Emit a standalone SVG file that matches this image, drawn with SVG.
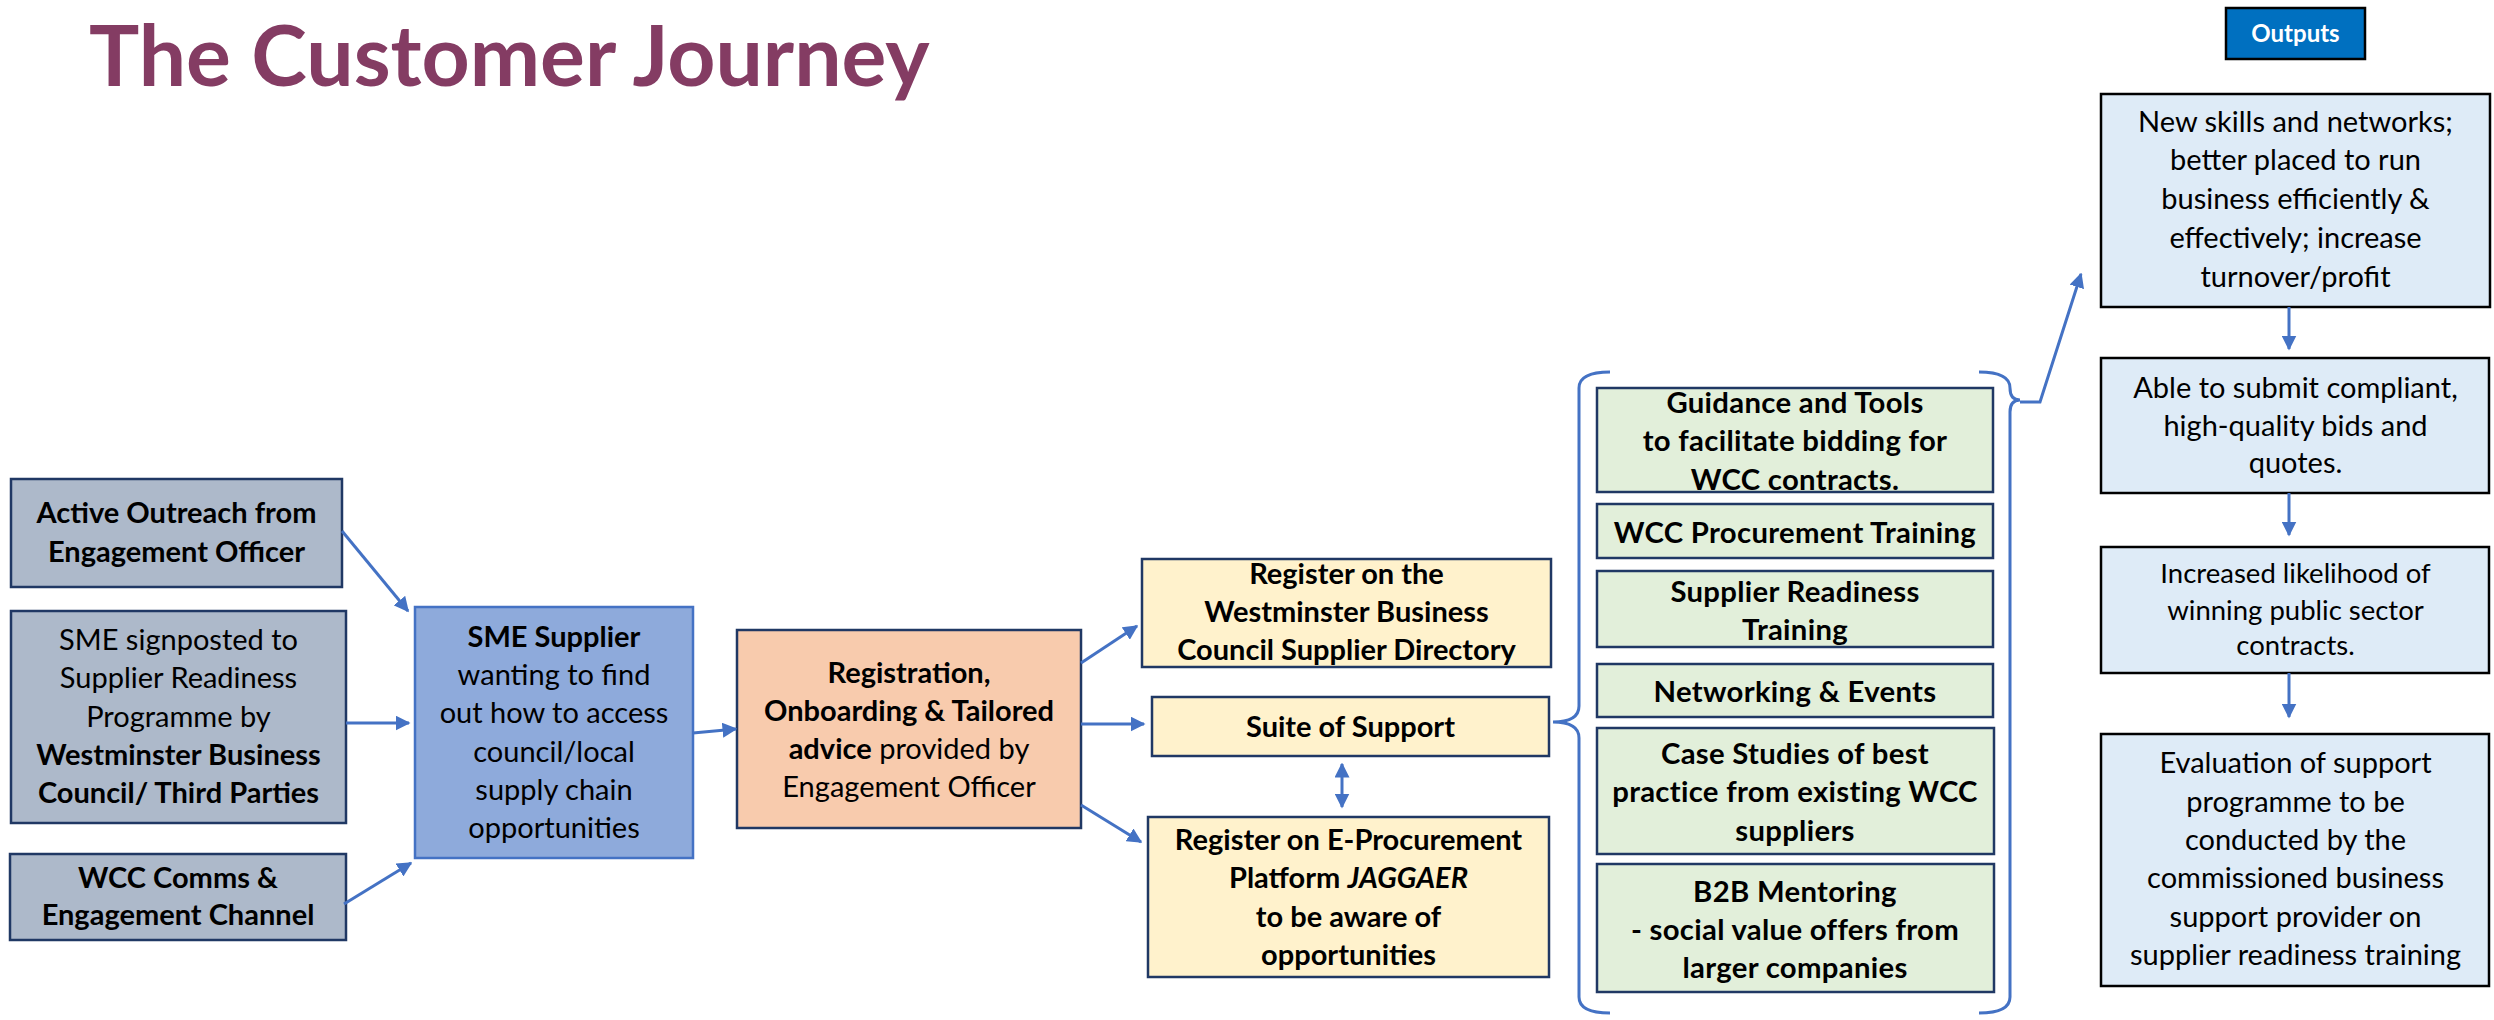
<svg xmlns="http://www.w3.org/2000/svg" width="2494" height="1020" viewBox="0 0 2494 1020">
<defs>
<marker id="ah" viewBox="0 0 10 10" refX="9" refY="5" markerWidth="5" markerHeight="5" orient="auto-start-reverse" markerUnits="strokeWidth"><path d="M0,0 L10,5 L0,10 z" fill="#4472c4"/></marker>
</defs>
<style>
text{font-family:Lato,"Open Sans","Liberation Sans",sans-serif;fill:#000;text-anchor:middle}
.t{font-size:29px}
.b{font-weight:bold}
.src rect{fill:#adb9ca;stroke:#203864;stroke-width:2.5}
.sme rect{fill:#8eaadb;stroke:#4472c4;stroke-width:2.5}
.reg rect{fill:#f8cbad;stroke:#203864;stroke-width:2.5}
.yel rect{fill:#fff2cc;stroke:#203864;stroke-width:2.5}
.grn rect{fill:#e2efda;stroke:#203864;stroke-width:2.5}
.grn text{font-weight:bold;font-size:29.3px;letter-spacing:0.3px}
.out rect{fill:#deebf7;stroke:#000;stroke-width:2.5}
.conn line,.conn polyline{stroke:#4472c4;stroke-width:3;fill:none;marker-end:url(#ah)}
.brace{stroke:#4472c4;stroke-width:3;fill:none}
</style>
<rect width="2494" height="1020" fill="#fff"/>
<text x="89" y="86" style="text-anchor:start;font-size:84px;font-weight:bold;fill:#843c63">The Customer Journey</text>

<g id="outputs-label"><rect x="2226" y="8" width="139" height="51" fill="#0070c0" stroke="#000" stroke-width="2.5"/><text x="2295.5" y="42" class="b" style="font-size:24px;fill:#fff">Outputs</text></g>

<g id="n-active" class="src"><rect x="11" y="479" width="331" height="108"/>
<text class="t b" x="176.5" y="523">Active Outreach from</text><text class="t b" x="176.5" y="562">Engagement Officer</text></g>
<g id="n-signposted" class="src"><rect x="11" y="611" width="335" height="212"/>
<text class="t" x="178.5" y="650">SME signposted to</text><text class="t" x="178.5" y="688">Supplier Readiness</text><text class="t" x="178.5" y="727">Programme by</text><text class="t b" x="178.5" y="765">Westminster Business</text><text class="t b" x="178.5" y="803">Council/ Third Parties</text></g>
<g id="n-comms" class="src"><rect x="10" y="854" width="336" height="86"/>
<text class="t b" x="178" y="888">WCC Comms &amp;</text><text class="t b" x="178" y="925">Engagement Channel</text></g>

<g id="n-sme" class="sme"><rect x="415" y="607" width="278" height="251"/>
<text class="t b" x="554" y="647">SME Supplier</text><text class="t" x="554" y="685">wanting to find</text><text class="t" x="554" y="723">out how to access</text><text class="t" x="554" y="762">council/local</text><text class="t" x="554" y="800">supply chain</text><text class="t" x="554" y="838">opportunities</text></g>

<g id="n-registration" class="reg"><rect x="737" y="630" width="344" height="198"/>
<text class="t b" x="909" y="683">Registration,</text><text class="t b" x="909" y="721">Onboarding &amp; Tailored</text><text class="t" x="909" y="759"><tspan class="b">advice</tspan> provided by</text><text class="t" x="909" y="797">Engagement Officer</text></g>

<g id="n-wbc" class="yel"><rect x="1142" y="559" width="409" height="108"/>
<text class="t b" x="1346.5" y="584">Register on the</text><text class="t b" x="1346.5" y="622">Westminster Business</text><text class="t b" x="1346.5" y="660">Council Supplier Directory</text></g>
<g id="n-suite" class="yel"><rect x="1152" y="697" width="397" height="59"/>
<text class="t b" x="1350.5" y="737">Suite of Support</text></g>
<g id="n-eproc" class="yel"><rect x="1148" y="817" width="401" height="160"/>
<text class="t b" x="1348.5" y="850">Register on E-Procurement</text><text class="t b" x="1348.5" y="888">Platform <tspan font-style="italic">JAGGAER</tspan></text><text class="t b" x="1348.5" y="927">to be aware of</text><text class="t b" x="1348.5" y="965">opportunities</text></g>

<g id="n-guidance" class="grn"><rect x="1597" y="388" width="396" height="104"/>
<text x="1795" y="413">Guidance and Tools</text><text x="1795" y="451">to facilitate bidding for</text><text x="1795" y="490">WCC contracts.</text></g>
<g id="n-procurement" class="grn"><rect x="1597" y="504" width="396" height="54"/>
<text x="1795" y="543">WCC Procurement Training</text></g>
<g id="n-readiness" class="grn"><rect x="1597" y="571" width="396" height="76"/>
<text x="1795" y="602">Supplier Readiness</text><text x="1795" y="640">Training</text></g>
<g id="n-networking" class="grn"><rect x="1597" y="664" width="396" height="53"/>
<text x="1795" y="702">Networking &amp; Events</text></g>
<g id="n-case" class="grn"><rect x="1597" y="728" width="397" height="126"/>
<text x="1795" y="764">Case Studies of best</text><text x="1795" y="802">practice from existing WCC</text><text x="1795" y="841">suppliers</text></g>
<g id="n-b2b" class="grn"><rect x="1597" y="864" width="397" height="128"/>
<text x="1795" y="902">B2B Mentoring</text><text x="1795" y="940">- social value offers from</text><text x="1795" y="978">larger companies</text></g>

<g id="n-out1" class="out"><rect x="2101" y="94" width="389" height="213"/>
<text class="t" x="2295.5" y="132">New skills and networks;</text><text class="t" x="2295.5" y="170">better placed to run</text><text class="t" x="2295.5" y="209">business efficiently &amp;</text><text class="t" x="2295.5" y="248">effectively; increase</text><text class="t" x="2295.5" y="287">turnover/profit</text></g>
<g id="n-out2" class="out"><rect x="2101" y="358" width="388" height="135"/>
<text class="t" x="2295.5" y="398">Able to submit compliant,</text><text class="t" x="2295.5" y="436">high-quality bids and</text><text class="t" x="2295.5" y="473">quotes.</text></g>
<g id="n-out3" class="out"><rect x="2101" y="547" width="388" height="126"/>
<text x="2295.5" y="583" style="font-size:27.5px">Increased likelihood of</text><text x="2295.5" y="620" style="font-size:27.5px">winning public sector</text><text x="2295.5" y="655" style="font-size:27.5px">contracts.</text></g>
<g id="n-out4" class="out"><rect x="2101" y="734" width="388" height="252"/>
<text class="t" x="2295.5" y="773">Evaluation of support</text><text class="t" x="2295.5" y="812">programme to be</text><text class="t" x="2295.5" y="850">conducted by the</text><text class="t" x="2295.5" y="888">commissioned business</text><text class="t" x="2295.5" y="927">support provider on</text><text class="t" x="2295.5" y="965">supplier readiness training</text></g>

<g id="connectors" class="conn">
<line x1="342" y1="531" x2="408" y2="611"/>
<line x1="346" y1="723" x2="409" y2="723"/>
<line x1="344" y1="904" x2="411" y2="863"/>
<line x1="693" y1="733" x2="736" y2="729"/>
<line x1="1081" y1="663" x2="1137" y2="626"/>
<line x1="1081" y1="724" x2="1144" y2="724"/>
<line x1="1081" y1="805" x2="1141" y2="842"/>
<line x1="1342" y1="764" x2="1342" y2="807" style="marker-start:url(#ah)"/>
<polyline points="2020,402 2040,402 2081,274"/>
<line x1="2289" y1="307" x2="2289" y2="349"/>
<line x1="2289" y1="493" x2="2289" y2="535"/>
<line x1="2289" y1="673" x2="2289" y2="717"/>
<path class="brace" d="M1610,372 Q1579,372 1579,388 L1579,706 Q1579,722 1553,722 Q1579,722 1579,738 L1579,997 Q1579,1013 1610,1013"/>
<path class="brace" d="M1979,372 Q2010,372 2010,388 Q2010,400 2020,400 Q2010,400 2010,412 L2010,997 Q2010,1013 1979,1013"/>
</g>
</svg>
